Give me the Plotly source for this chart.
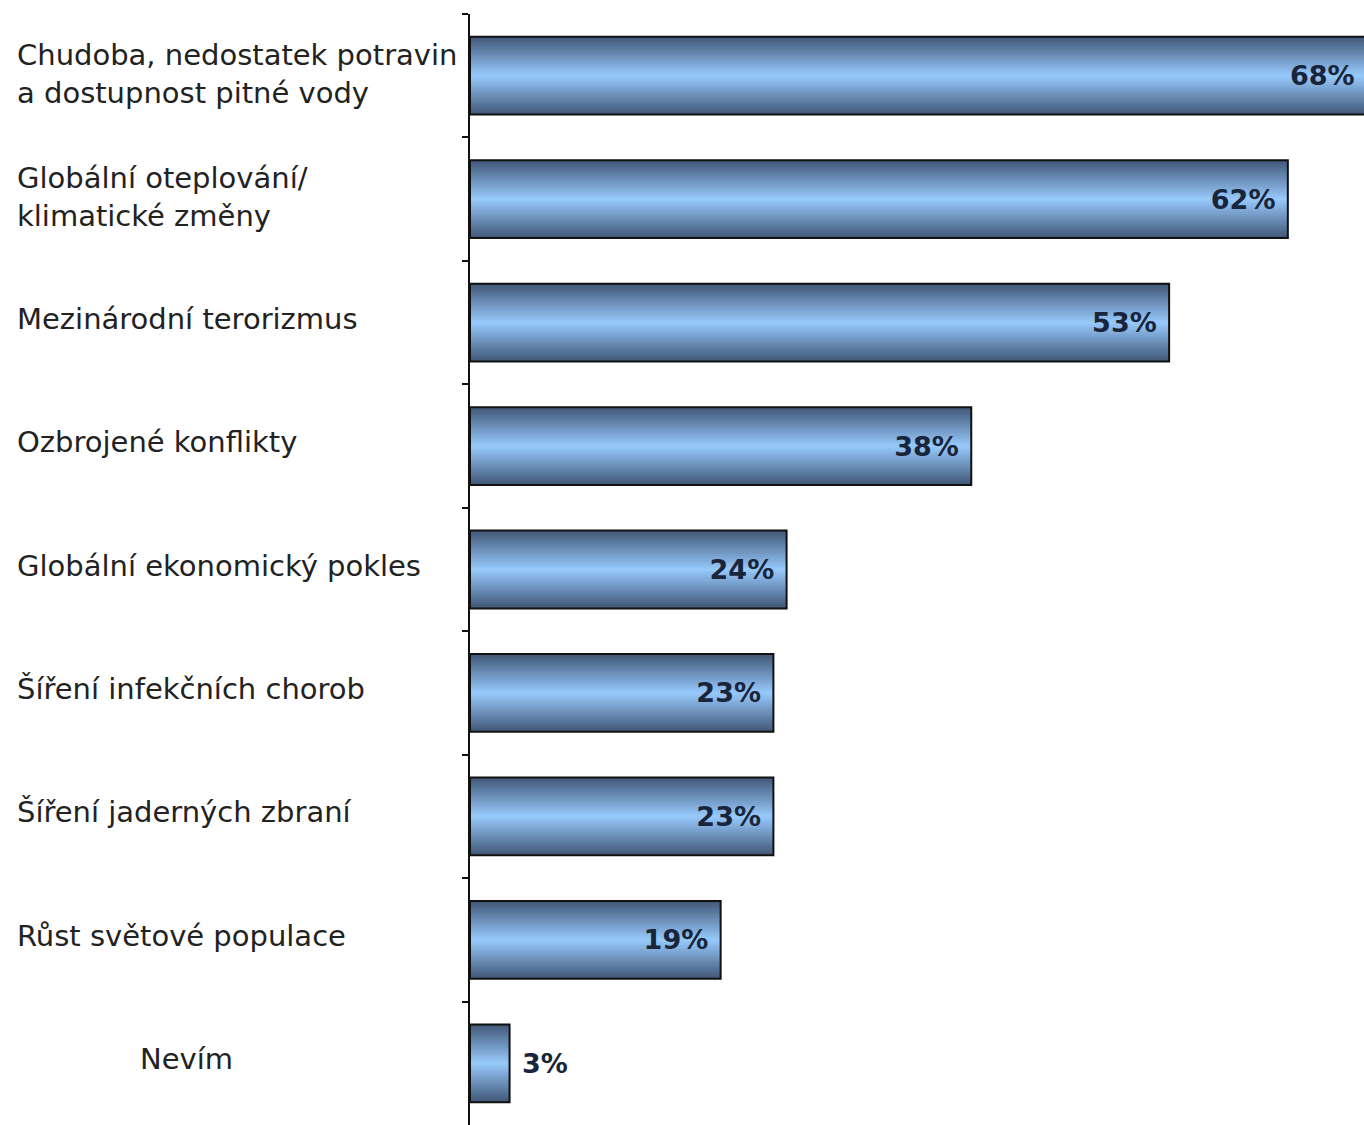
import plotly.graph_objects as go

categories = [
    "Chudoba, nedostatek potravin<br>a dostupnost pitné vody",
    "Globální oteplování/<br>klimatické změny",
    "Mezinárodní terorizmus",
    "Ozbrojené konflikty",
    "Globální ekonomický pokles",
    "Šíření infekčních chorob",
    "Šíření jaderných zbraní",
    "Růst světové populace",
    "Nevím",
]
values = [68, 62, 53, 38, 24, 23, 23, 19, 3]

# figure is a few px wider than the window so the longest bar's end runs off the edge
W, H = 1367, 1125
ML, MR, MT, MB = 470, 0, 14, 0
plot_w = W - ML - MR

dark = (66, 88, 120)
light = (153, 204, 255)
bar_w = 0.63
N = 30

fig = go.Figure()
for k in range(N):
    t = 1 - k / N  # 1 at edge, ->0 at centre
    c = tuple(round(light[i] + (dark[i] - light[i]) * t) for i in range(3))
    fig.add_trace(go.Bar(
        y=categories, x=values, orientation="h",
        width=bar_w * (1 - k / N),
        marker=dict(color="rgb(%d,%d,%d)" % c, line=dict(width=0)),
        hoverinfo="skip", showlegend=False,
    ))

positions = ["inside" if v >= 10 else "outside" for v in values]
fig.add_trace(go.Bar(
    y=categories, x=values, orientation="h", width=bar_w,
    marker=dict(color="rgba(0,0,0,0)", line=dict(width=2, color="#111111")),
    texttemplate="\u00a0%{x}%\u00a0", textposition=positions,
    insidetextanchor="end", textangle=0, constraintext="none",
    textfont=dict(family="DejaVu Sans", size=27, color="#18253a", weight="bold"),
    showlegend=False, cliponaxis=False,
))

def px_to_paper(px):
    return (px - ML) / plot_w

ann = []
for cat in categories:
    if cat == "Nevím":
        ann.append(dict(x=px_to_paper(186), xanchor="center"))
    else:
        ann.append(dict(x=px_to_paper(15), xanchor="left"))
    ann[-1].update(text=cat, y=cat, xref="paper", yref="y", yanchor="middle",
                   yshift=4 if "<br>" not in cat else 2, align="left", showarrow=False,
                   font=dict(family="DejaVu Sans", size=29, color="#222222"))

fig.update_layout(
    width=W, height=H,
    margin=dict(l=ML, r=MR, t=MT, b=MB),
    barmode="overlay",
    plot_bgcolor="white", paper_bgcolor="white",
    annotations=ann,
    xaxis=dict(range=[0, 68], visible=False),
    yaxis=dict(autorange="reversed", showticklabels=False, showline=True,
               linecolor="#111111", linewidth=2, ticks="outside",
               tickson="boundaries", ticklen=6, tickwidth=2, tickcolor="#111111",
               showgrid=False, zeroline=False),
)
fig.write_html("out.html", config={"displayModeBar": False},
               post_script="document.body.style.margin='0';document.body.style.overflow='hidden';")
